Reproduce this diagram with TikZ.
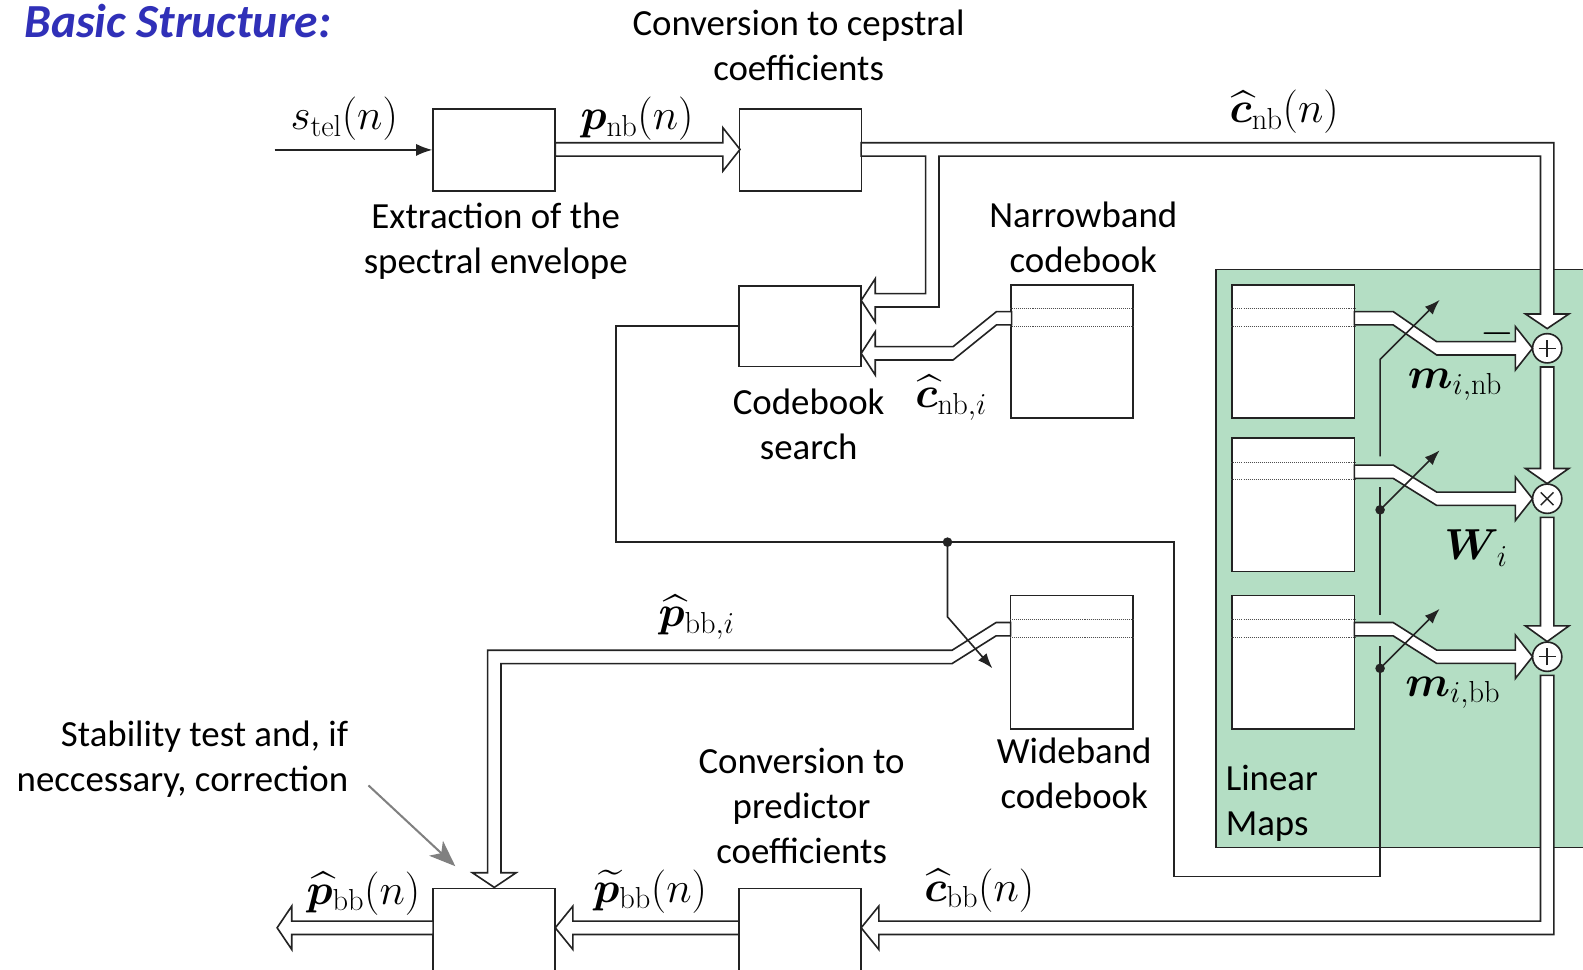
\documentclass[tikz,border=0pt]{standalone}
\usepackage{fix-cm}
\usepackage{exscale}
\DeclareFontShape{OMX}{cmex}{m}{n}{<-7.5>cmex7<7.5-8.5>cmex8<8.5-9.5>cmex9<9.5->cmex10}{}
\usepackage[no-math]{fontspec}
\setmainfont{Carlito}
\usepackage{bm}
\usetikzlibrary{arrows.meta,calc}

\definecolor{ink}{RGB}{35,35,35}
\definecolor{mapgreen}{RGB}{180,222,196}
\definecolor{titleblue}{RGB}{48,48,184}
\definecolor{notegray}{RGB}{128,128,128}

% half width of a vector shaft and half width of its open head
\def\shaftw{6.6}
\def\headw{21.5}

\tikzset{
  blk/.style={draw=ink, line width=1.6pt, fill=white, inner sep=0pt, minimum width=121pt},
  shaft/.style={draw=ink, fill=white, line width=1.6pt, line join=miter},
  ctrl/.style={draw=ink, line width=1.6pt},
  ctrlarrow/.style={-{Latex[length=15pt,width=11pt]}},
  txt/.style={font=\fontsize{36.5}{44.5}\selectfont, inner sep=0pt, align=center},
  mth/.style={font=\fontsize{43}{50}\selectfont, inner sep=0pt},
  rows/.style={draw=ink!80, line width=1pt, densely dotted},
  junction/.style={circle, fill=ink, inner sep=0pt, minimum size=9.5pt},
  opnode/.style={circle, draw=ink, fill=white, line width=1.6pt, minimum size=29pt, inner sep=0pt},
  opplus/.style={opnode, path picture={
    \draw[ink, line width=1.4pt]
      ([xshift=-8.5pt]path picture bounding box.center) -- ([xshift=8.5pt]path picture bounding box.center)
      ([yshift=-8.5pt]path picture bounding box.center) -- ([yshift=8.5pt]path picture bounding box.center);}},
  optimes/.style={opnode, path picture={
    \draw[ink, line width=1.4pt]
      ([shift={(-6.3pt,-6.3pt)}]path picture bounding box.center) -- ([shift={(6.3pt,6.3pt)}]path picture bounding box.center)
      ([shift={(-6.3pt,6.3pt)}]path picture bounding box.center) -- ([shift={(6.3pt,-6.3pt)}]path picture bounding box.center);}},
}

% horizontal vector shaft with one oblique step:
% #1 start x, #2 start y, #3 step begins, #4 step ends, #5 end y, #6 head base x, #7 tip x
\newcommand\kinkshaft[7]{%
  \filldraw[shaft] (#1,{#2-\shaftw}) -- (#3,{#2-\shaftw}) -- (#4,{#5-\shaftw}) -- (#6,{#5-\shaftw})
    -- (#6,{#5-\headw}) -- (#7,#5) -- (#6,{#5+\headw}) -- (#6,{#5+\shaftw}) -- (#4,{#5+\shaftw})
    -- (#3,{#2+\shaftw}) -- (#1,{#2+\shaftw}) -- cycle;}
% vertical vector shaft pointing down: #1 x, #2 start y, #3 head base y, #4 tip y
\newcommand\vshaft[4]{%
  \filldraw[shaft] ({#1-\shaftw},#2) -- ({#1-\shaftw},#3) -- ({#1-\headw},#3) -- (#1,#4)
    -- ({#1+\headw},#3) -- ({#1+\shaftw},#3) -- ({#1+\shaftw},#2) -- cycle;}

\begin{document}
\begin{tikzpicture}[x=1pt,y=-1pt]
\useasboundingbox (0,0) rectangle (1568,960);
\fill[white] (0,0) rectangle (1568,960);

% linear maps area
\node[draw=ink, fill=mapgreen, line width=1.6pt, anchor=north west, minimum width=400pt, minimum height=572.5pt, inner sep=0pt] (lmaps) at (1203.5,266) {};

% processing blocks
\node[blk, minimum height=81pt] (extract) at (489.5,148.5) {};
\node[blk, minimum height=81pt] (ceps) at (793,148.5) {};
\node[blk, minimum height=80pt] (search) at (792.5,323) {};
\node[blk, minimum height=120pt] (stab) at (489.5,940) {};
\node[blk, minimum height=120pt] (pred) at (792.5,940) {};

% codebooks and linear map tables
\node[blk, minimum height=132pt] (nbcb) at (1062,348) {};
\node[blk, minimum height=132pt] (wbcb) at (1061.5,656) {};
\node[blk, minimum height=132pt] (lmA) at (1281,348) {};
\node[blk, minimum height=132pt] (lmB) at (1281,500) {};
\node[blk, minimum height=132pt] (lmC) at (1281,656) {};
\foreach \cb in {nbcb,wbcb,lmA,lmB,lmC}{
  \draw[rows] ([yshift=-24.5pt]\cb.north west) -- ([yshift=-24.5pt]\cb.north east);
  \draw[rows] ([yshift=-42pt]\cb.north west) -- ([yshift=-42pt]\cb.north east);
}

% operators
\node[opplus] (sumA) at (1532.5,345) {};
\node[optimes] (prod) at (1532.5,494) {};
\node[opplus] (sumB) at (1532.5,650.5) {};

% input signal
\coordinate (sin) at (272,148.5);
\draw[ctrl, -{Latex[length=16pt,width=12pt]}] (sin) -- (extract.west);

% vector connections
\kinkshaft{550}{148}{640}{640}{148}{716}{733}
\filldraw[shaft] (853,141.4) -- (1539.1,141.4) -- (1539.1,311) -- (1554,311) -- (1532.5,325.5)
  -- (1511,311) -- (1525.9,311) -- (1525.9,154.6) -- (930.1,154.6) -- (930.1,304.1)
  -- (867,304.1) -- (867,319) -- (853,297.5) -- (867,276) -- (867,290.9) -- (916.9,290.9)
  -- (916.9,154.6) -- (853,154.6) -- cycle;
\kinkshaft{1002}{315.25}{987}{944}{350}{867}{853}
\kinkshaft{1341.5}{315.25}{1380}{1423}{345}{1501}{1518}
\kinkshaft{1341.5}{467.25}{1380}{1423}{494}{1501}{1518}
\kinkshaft{1341.5}{623.25}{1380}{1423}{650.5}{1501}{1518}
\vshaft{1532.5}{363.5}{464}{479}
\vshaft{1532.5}{512.5}{620}{635.5}
\filldraw[shaft] (1525.9,669) -- (1525.9,912.4) -- (870.5,912.4) -- (870.5,897.5) -- (853,919)
  -- (870.5,940.5) -- (870.5,925.6) -- (1539.1,925.6) -- (1539.1,669) -- cycle;
\filldraw[shaft] (1001,616.65) -- (986.6,616.65) -- (943,644.1) -- (483,644.1) -- (483,864.5)
  -- (468,864.5) -- (489.6,879) -- (511.2,864.5) -- (496.2,864.5) -- (496.2,657.3)
  -- (943,657.3) -- (986.6,629.85) -- (1001,629.85) -- cycle;
\kinkshaft{732}{919}{640}{640}{919}{567.5}{550}
\kinkshaft{429}{919}{350}{350}{919}{289}{274.5}

% codebook index control lines
\coordinate (jA) at (938.5,537);
\coordinate (jB) at (1367,505);
\coordinate (jC) at (1367,662);
\draw[ctrl] (search.west) -- (610,323) -- (610,537) -- (1163,537) -- (1163,868) -- (1367,868) -- (1367,640);
\draw[ctrl] (1367,609) -- (1367,482);
\draw[ctrl, ctrlarrow] (1367,452) -- (1367,356) -- (1426,297);
\draw[ctrl, ctrlarrow] (jA) -- (938.5,611) -- (983,662);
\draw[ctrl, ctrlarrow] (jB) -- (1426,446);
\draw[ctrl, ctrlarrow] (jC) -- (1426,603);
\node[junction] (dotA) at (jA) {};
\node[junction] (dotB) at (jB) {};
\node[junction] (dotC) at (jC) {};

% annotation arrow
\coordinate (noteA) at (365,778);
\coordinate (noteB) at (451,858);
\draw[notegray, line width=2pt, -{Stealth[length=26pt,width=20pt,inset=7pt]}] (noteA) -- (noteB);

% texts
\node[txt, font=\fontsize{47}{54}\selectfont\bfseries\itshape, text=titleblue, anchor=west] (title) at (24,21) {Basic Structure:};
\node[txt] (lceps) at (791,45) {Conversion to cepstral\\coefficients};
\node[txt] (lext) at (491,239) {Extraction of the\\spectral envelope};
\node[txt] (lnb) at (1073,235) {Narrowband\\codebook};
\node[txt] (lsearch) at (801,420) {Codebook\\search};
\node[txt] (lwb) at (1064,766) {Wideband\\codebook};
\node[txt, align=right, anchor=east] (lstab) at (345,752) {Stability test and, if\\neccessary, correction};
\node[txt] (lpred) at (794,798) {Conversion to\\predictor\\coefficients};
\node[txt, align=left, anchor=west] (llin) at (1214,796) {Linear\\Maps};

\node[mth] (lstel) at (341,118) {$s_{\mathrm{tel}}(n)$};
\node[mth] (lpnb) at (631,118) {$\bm{p}_{\mathrm{nb}}(n)$};
\node[mth] (lcnb) at (1272,111) {$\widehat{\bm{c}}_{\mathrm{nb}}(n)$};
\node[mth] (lcnbi) at (942,394) {$\widehat{\bm{c}}_{\mathrm{nb},i}$};
\node[mth] (lminb) at (1441,381) {$\bm{m}_{i,\mathrm{nb}}$};
\node[mth] (lW) at (1462,543) {$\bm{W}_{\,i}$};
\node[mth] (lmibb) at (1439,686) {$\bm{m}_{i,\mathrm{bb}}$};
\node[mth] (lpbbi) at (690,611) {$\widehat{\bm{p}}_{\mathrm{bb},i}$};
\node[mth] (lpbb) at (360,885) {$\widehat{\bm{p}}_{\mathrm{bb}}(n)$};
\node[mth] (lptbb) at (644,883) {$\widetilde{\bm{p}}_{\mathrm{bb}}(n)$};
\node[mth] (lcbb) at (970,882) {$\widehat{\bm{c}}_{\mathrm{bb}}(n)$};
\node[mth] (lminus) at (1483,330) {$-$};
\end{tikzpicture}
\end{document}
